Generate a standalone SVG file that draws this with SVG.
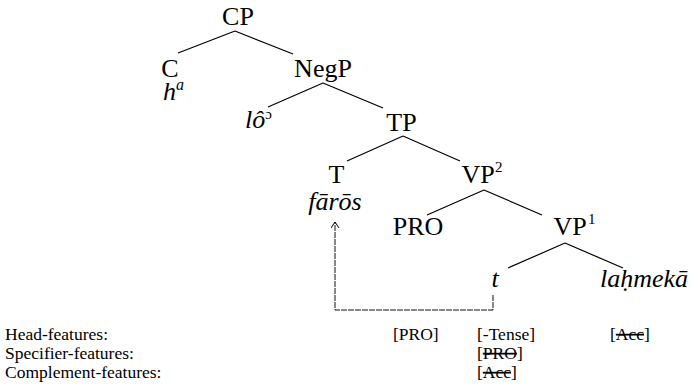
<svg xmlns="http://www.w3.org/2000/svg" width="692" height="390" viewBox="0 0 692 390">
<style>
text{font-family:"Liberation Serif","Times New Roman",serif;fill:#000}
.n{font-size:26px;text-anchor:middle}
.w{font-size:26px;font-style:italic}
.sup{font-size:15px}
.f{font-size:17.5px}
.s{text-decoration:line-through}
.e{stroke:#000;stroke-width:1.2;fill:none}
.tr{stroke:#111;stroke-width:1;fill:none;stroke-dasharray:6 1}
</style>
<defs>
<marker id="ah" markerWidth="10" markerHeight="10" refX="7" refY="4" orient="auto" markerUnits="userSpaceOnUse">
<path d="M1,0 L7,4 L1,8" fill="none" stroke="#000" stroke-width="1"/>
</marker>
</defs>
<g id="connectors">
<path class="e" d="M235,31 L178,53 M235,31 L293,54"/>
<path class="e" d="M323,83 L268,107 M323,83 L383,108"/>
<path class="e" d="M403,136 L347,161 M403,136 L460,161"/>
<path class="e" d="M484,190 L427,215 M484,190 L542,215"/>
<path class="e" d="M565,243 L508,268 M565,243 L623,268"/>
<path class="tr" d="M493,295 V310 H335 V222" marker-end="url(#ah)"/>
</g>
<g id="CP"><text class="n" x="238" y="25">CP</text></g>
<g id="C"><text class="n" x="170" y="77">C</text><text class="w" x="163" y="100">h<tspan font-size="16" dy="-10">a</tspan></text></g>
<g id="NegP"><text class="n" x="323" y="77">NegP</text></g>
<g id="Neg"><text class="w" x="245" y="128">lô<tspan font-style="normal" font-size="15" dy="-9">ɔ</tspan></text></g>
<g id="TP"><text class="n" x="401.5" y="131">TP</text></g>
<g id="T"><text class="n" x="336.5" y="183">T</text><text class="w" x="335" y="210" text-anchor="middle">fārōs</text></g>
<g id="VP2"><text class="n" x="478" y="183">VP</text><text class="sup" x="495" y="172">2</text></g>
<g id="PRO"><text class="n" x="418" y="235">PRO</text></g>
<g id="VP1"><text class="n" x="570" y="235">VP</text><text class="sup" x="588" y="224">1</text></g>
<g id="trace"><text class="w" x="495" y="287" text-anchor="middle">t</text></g>
<g id="obj"><text class="w" x="600" y="287">laḥmekā</text></g>
<g id="features">
<text class="f" x="5" y="340">Head-features:</text>
<text class="f" x="5" y="359">Specifier-features:</text>
<text class="f" x="5" y="378">Complement-features:</text>
<text class="f" x="393" y="340">[PRO]</text>
<text class="f" x="477" y="340">[-Tense]</text>
<text class="f" x="610" y="340">[<tspan class="s">Acc</tspan>]</text>
<text class="f" x="477" y="359">[<tspan class="s">PRO</tspan>]</text>
<text class="f" x="477" y="378">[<tspan class="s">Acc</tspan>]</text>
</g>
</svg>
